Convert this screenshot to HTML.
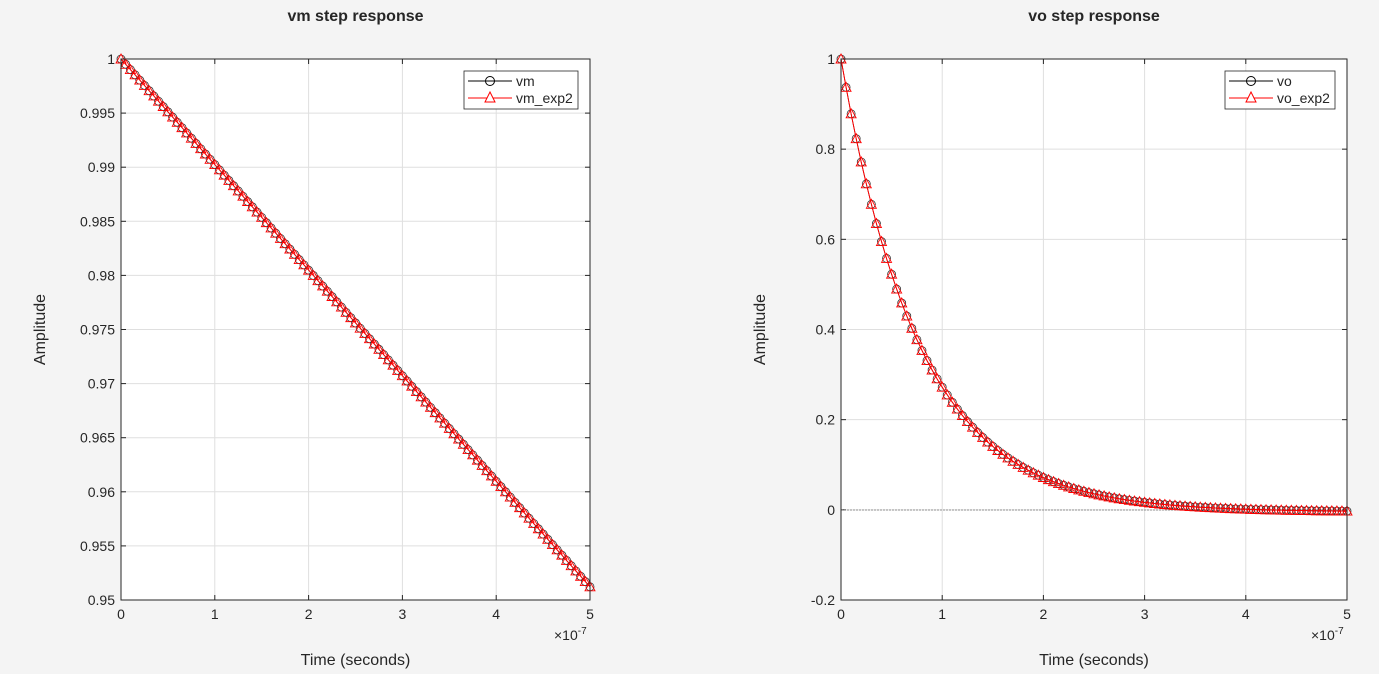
<!DOCTYPE html>
<html><head><meta charset="utf-8"><style>
body{margin:0;background:#f4f4f4;}
svg{display:block;font-family:"Liberation Sans",sans-serif;}
</style></head><body>
<svg id="s" width="1379" height="674" xmlns="http://www.w3.org/2000/svg"></svg>
<script>
const s=document.getElementById('s');let h='';
function axes(x0,x1,y0,y1,yt,ylab,title,fmt){
  h+=`<rect x="${x0}" y="${y0}" width="${x1-x0}" height="${y1-y0}" fill="#fff"/>`;
  for(let i=0;i<=5;i++){const x=x0+(x1-x0)*i/5;
    h+=`<line x1="${x}" y1="${y0}" x2="${x}" y2="${y1}" stroke="#dfdfdf"/>`;
    h+=`<line x1="${x}" y1="${y1}" x2="${x}" y2="${y1-5}" stroke="#262626"/><line x1="${x}" y1="${y0}" x2="${x}" y2="${y0+5}" stroke="#262626"/>`;
    h+=`<text x="${x}" y="${y1+19}" font-size="14" text-anchor="middle" fill="#262626">${i}</text>`;}
  yt.forEach(([v,y])=>{h+=`<line x1="${x0}" y1="${y}" x2="${x1}" y2="${y}" stroke="#dfdfdf"/>`;
    h+=`<line x1="${x0}" y1="${y}" x2="${x0+5}" y2="${y}" stroke="#262626"/><line x1="${x1}" y1="${y}" x2="${x1-5}" y2="${y}" stroke="#262626"/>`;
    h+=`<text x="${x0-6}" y="${y+5}" font-size="14" text-anchor="end" fill="#262626">${v}</text>`;});
  h+=`<text x="${x1-36}" y="${y1+40}" font-size="14" fill="#262626">×10<tspan dy="-6" font-size="10">-7</tspan></text>`;
  h+=`<text x="${(x0+x1)/2}" y="${y1+65}" font-size="16" text-anchor="middle" fill="#262626">Time (seconds)</text>`;
  h+=`<text transform="translate(${x0-76},${(y0+y1)/2}) rotate(-90)" font-size="16" text-anchor="middle" fill="#262626">Amplitude</text>`;
  h+=`<text x="${(x0+x1)/2}" y="21" font-size="16" font-weight="bold" text-anchor="middle" fill="#262626">${title}</text>`;
}
function series(x0,x1,f){let p='',m='';
  for(let n=0;n<=100;n++){const x=x0+(x1-x0)*n/100,y=f(n);p+=(n?'L':'M')+x.toFixed(1)+' '+y.toFixed(1);
    m+=`<circle cx="${x}" cy="${y}" r="4" fill="none" stroke="#333" stroke-width="0.8"/>`;
    m+=`<path d="M${x} ${y-5}L${x+5} ${y+4}L${x-5} ${y+4}Z" fill="none" stroke="#f00" stroke-width="0.9"/>`;}
  h+=`<path d="${p}" fill="none" stroke="#000" stroke-width="0.8"/>`+m+`<path d="${p}" fill="none" stroke="#f00" stroke-width="1"/>`;}
function legend(x,y,w,a,b){
  h+=`<rect x="${x}" y="${y}" width="${w}" height="38" fill="#fff" stroke="#262626" stroke-width="0.8"/>`;
  h+=`<line x1="${x+4}" y1="${y+10}" x2="${x+48}" y2="${y+10}" stroke="#000"/><circle cx="${x+26}" cy="${y+10}" r="4.5" fill="none" stroke="#000"/>`;
  h+=`<line x1="${x+4}" y1="${y+27}" x2="${x+48}" y2="${y+27}" stroke="#f00"/><path d="M${x+26} ${y+21}L${x+31} ${y+31}L${x+21} ${y+31}Z" fill="#fff" stroke="#f00"/>`;
  h+=`<text x="${x+52}" y="${y+15}" font-size="14" fill="#262626">${a}</text><text x="${x+52}" y="${y+32}" font-size="14" fill="#262626">${b}</text>`;}
// left
let yt=[];const lv=['0.95','0.955','0.96','0.965','0.97','0.975','0.98','0.985','0.99','0.995','1'];
lv.forEach((v,i)=>yt.push([v,600-541*i/10]));
axes(121,590,59,600,yt,'','vm step response');
series(121,590,n=>59+(1-0.95122)/0.05*541*n/100);
legend(464,71,114,'vm','vm_exp2');
h+=`<rect x="121" y="59" width="469" height="541" fill="none" stroke="#262626"/>`;
// right
yt=[];['-0.2','0','0.2','0.4','0.6','0.8','1'].forEach((v,i)=>yt.push([v,600-90.17*i]));
axes(841,1347,59,600,yt,'','vo step response');
h+=`<line x1="841" y1="510" x2="1347" y2="510" stroke="#777" stroke-width="0.7" stroke-dasharray="2,1"/>`;
series(841,1347,n=>510-451*(1.004*Math.exp(-0.0645*n)-0.004));
legend(1225,71,110,'vo','vo_exp2');
h+=`<rect x="841" y="59" width="506" height="541" fill="none" stroke="#262626"/>`;
s.innerHTML=h;
</script>
</body></html>
